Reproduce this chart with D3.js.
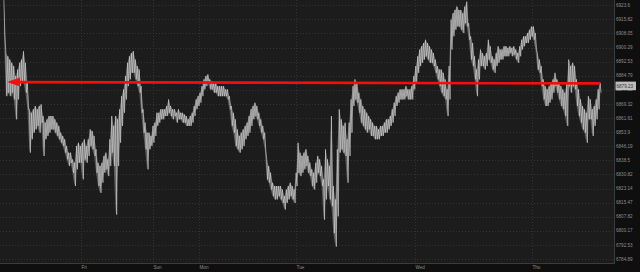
<!DOCTYPE html>
<html lang="en">
<head>
<meta charset="utf-8">
<title>price chart</title>
<style>
* { margin: 0; padding: 0; }
body { background: #0f0f0f; width: 640px; height: 272px; overflow: hidden; }
svg { display: block; font-family: "Liberation Sans", Arial, sans-serif; }
</style>
<script src="https://cdn.jsdelivr.net/npm/d3@7/dist/d3.min.js"></script>
</head>
<body>
<div id="chart"></div>
<script>
  // right axis labels
  const yTicks = [6923.6, 6915.82, 6908.05, 6900.29, 6892.53, 6884.79, 6877.05, 6869.32, 6861.61,
                  6853.9, 6846.19, 6838.5, 6830.82, 6823.14, 6815.47, 6807.82, 6800.17, 6792.53, 6784.89];
  // day labels, placed at bar index
  const days   = ["Fri", "Sun", "Mon", "Tue", "Wed", "Thu"];
  const dayIdx = [39.5, 75.9, 99.6, 149.1, 209.5, 269.5];

  // high / low of each bar
  const hi = [
    6926.5, 6897.3, 6895.5, 6893.7, 6891.9, 6890.1, 6884.6, 6888.2, 6891.9, 6893.7,
    6898.3, 6891.9, 6880.9, 6866.4, 6864.5, 6866.4, 6868.2, 6866.4, 6868.2, 6869.1,
    6862.7, 6859.1, 6860.9, 6862.7, 6862.7, 6862.7, 6860.9, 6859.1, 6857.3, 6853.6,
    6851.8, 6850.0, 6846.3, 6842.7, 6842.7, 6839.0, 6837.2, 6846.3, 6848.1, 6846.3,
    6848.1, 6850.0, 6846.3, 6850.0, 6855.4, 6854.5, 6851.8, 6844.5, 6837.2, 6835.4,
    6837.2, 6840.9, 6842.7, 6839.0, 6850.0, 6862.7, 6857.3, 6862.7, 6860.9, 6866.4,
    6873.6, 6877.3, 6884.6, 6891.9, 6895.5, 6897.3, 6898.3, 6893.7, 6890.1, 6888.2,
    6879.1, 6866.4, 6859.1, 6853.6, 6853.6, 6851.8, 6857.3, 6859.1, 6864.5, 6864.5,
    6866.4, 6866.4, 6866.4, 6868.2, 6871.8, 6868.2, 6866.4, 6866.4, 6864.5, 6866.4,
    6864.5, 6864.5, 6863.6, 6862.7, 6860.9, 6862.7, 6864.5, 6868.2, 6871.8, 6873.6,
    6875.5, 6879.1, 6882.8, 6884.6, 6885.5, 6882.8, 6881.9, 6880.9, 6880.9, 6879.1,
    6879.1, 6879.1, 6879.1, 6877.3, 6877.3, 6873.6, 6868.2, 6864.5, 6860.9, 6855.4,
    6851.8, 6853.6, 6855.4, 6857.3, 6859.1, 6862.7, 6866.4, 6868.2, 6870.0, 6868.2,
    6864.5, 6860.9, 6857.3, 6853.6, 6839.0, 6835.4, 6831.7, 6826.3, 6824.5, 6824.5,
    6824.5, 6824.5, 6822.6, 6819.0, 6822.6, 6824.5, 6826.3, 6824.5, 6822.6, 6831.7,
    6848.1, 6842.7, 6840.9, 6842.7, 6844.5, 6840.9, 6837.2, 6833.6, 6831.7, 6837.2,
    6840.9, 6839.0, 6835.4, 6828.1, 6844.5, 6839.0, 6835.4, 6862.7, 6824.5, 6817.2,
    6844.5, 6866.4, 6860.9, 6857.3, 6859.1, 6850.0, 6859.1, 6871.8, 6879.1, 6882.8,
    6880.9, 6875.5, 6871.8, 6868.2, 6866.4, 6864.5, 6862.7, 6860.9, 6859.1, 6857.3,
    6857.3, 6855.4, 6857.3, 6857.3, 6859.1, 6860.9, 6860.9, 6862.7, 6866.4, 6870.0,
    6873.6, 6875.5, 6877.3, 6877.3, 6877.3, 6879.1, 6877.3, 6877.3, 6879.1, 6884.6,
    6890.1, 6895.5, 6899.2, 6901.0, 6902.8, 6904.6, 6902.8, 6901.0, 6899.2, 6897.3,
    6893.7, 6890.1, 6888.2, 6888.2, 6886.4, 6882.8, 6877.3, 6890.1, 6915.6, 6919.2,
    6921.0, 6922.9, 6921.0, 6921.0, 6919.2, 6922.9, 6925.6, 6913.7, 6906.5, 6902.8,
    6895.5, 6888.2, 6893.7, 6899.2, 6897.3, 6895.5, 6897.3, 6904.6, 6901.0, 6895.5,
    6893.7, 6897.3, 6901.0, 6899.2, 6899.2, 6901.0, 6901.0, 6900.1, 6901.0, 6900.1,
    6901.0, 6899.2, 6897.3, 6901.0, 6904.6, 6906.5, 6906.5, 6908.3, 6910.1, 6911.9,
    6911.9, 6908.3, 6897.3, 6893.7, 6890.1, 6882.8, 6879.1, 6877.3, 6879.1, 6880.9,
    6882.8, 6886.4, 6882.8, 6880.9, 6879.1, 6877.3, 6875.5, 6880.9, 6893.7, 6890.1,
    6891.9, 6890.1, 6882.8, 6877.3, 6871.8, 6868.2, 6866.4, 6864.5, 6873.6, 6871.8,
    6866.4, 6868.2, 6871.8, 6877.3, 6880.9
  ];
  const lo = [
    6907.4, 6873.6, 6875.5, 6873.6, 6875.5, 6871.8, 6860.9, 6871.8, 6879.1, 6880.9,
    6880.9, 6875.5, 6866.4, 6842.7, 6850.0, 6853.6, 6855.4, 6857.3, 6853.6, 6859.1,
    6840.9, 6850.0, 6851.8, 6853.6, 6855.4, 6855.4, 6853.6, 6851.8, 6850.0, 6848.1,
    6846.3, 6842.7, 6839.0, 6835.4, 6837.2, 6831.7, 6824.5, 6833.6, 6837.2, 6837.2,
    6828.1, 6839.0, 6837.2, 6840.9, 6846.3, 6844.5, 6840.9, 6831.7, 6824.5, 6820.8,
    6826.3, 6831.7, 6833.6, 6829.9, 6835.4, 6842.7, 6835.4, 6809.0, 6835.4, 6848.1,
    6857.3, 6864.5, 6871.8, 6879.1, 6882.8, 6886.4, 6886.4, 6882.8, 6879.1, 6875.5,
    6864.5, 6853.6, 6844.5, 6833.6, 6844.5, 6846.3, 6848.1, 6851.8, 6857.3, 6859.1,
    6860.9, 6860.9, 6862.7, 6862.7, 6864.5, 6862.7, 6860.9, 6862.7, 6859.1, 6860.9,
    6860.9, 6859.1, 6859.1, 6857.3, 6857.3, 6857.3, 6859.1, 6862.7, 6866.4, 6868.2,
    6870.0, 6873.6, 6877.3, 6879.1, 6880.9, 6877.3, 6877.3, 6875.5, 6875.5, 6873.6,
    6873.6, 6873.6, 6873.6, 6873.6, 6871.8, 6866.4, 6857.3, 6853.6, 6846.3, 6844.5,
    6842.7, 6844.5, 6846.3, 6850.0, 6851.8, 6853.6, 6857.3, 6860.9, 6862.7, 6860.9,
    6857.3, 6853.6, 6850.0, 6844.5, 6828.1, 6826.3, 6822.6, 6819.0, 6817.2, 6817.2,
    6819.0, 6817.2, 6815.3, 6811.7, 6815.3, 6817.2, 6819.0, 6817.2, 6815.3, 6824.5,
    6831.7, 6829.9, 6831.7, 6833.6, 6835.4, 6831.7, 6829.9, 6824.5, 6822.6, 6826.3,
    6831.7, 6829.9, 6824.5, 6806.2, 6817.2, 6824.5, 6817.2, 6813.5, 6798.9, 6791.6,
    6808.0, 6842.7, 6844.5, 6842.7, 6840.9, 6826.3, 6840.9, 6853.6, 6868.2, 6871.8,
    6870.0, 6864.5, 6859.1, 6857.3, 6855.4, 6853.6, 6855.4, 6851.8, 6851.8, 6850.0,
    6850.0, 6850.0, 6851.8, 6851.8, 6853.6, 6853.6, 6855.4, 6857.3, 6859.1, 6862.7,
    6868.2, 6870.0, 6871.8, 6871.8, 6871.8, 6873.6, 6871.8, 6871.8, 6871.8, 6877.3,
    6880.9, 6886.4, 6890.1, 6891.9, 6893.7, 6895.5, 6893.7, 6891.9, 6891.9, 6890.1,
    6886.4, 6882.8, 6879.1, 6875.5, 6873.6, 6871.8, 6862.7, 6871.8, 6899.2, 6906.5,
    6910.1, 6911.9, 6911.9, 6910.1, 6908.3, 6913.7, 6911.9, 6904.6, 6893.7, 6890.1,
    6882.8, 6873.6, 6882.8, 6890.1, 6890.1, 6888.2, 6890.1, 6893.7, 6891.9, 6888.2,
    6886.4, 6890.1, 6891.9, 6893.7, 6893.7, 6895.5, 6895.5, 6895.5, 6897.3, 6895.5,
    6896.4, 6893.7, 6891.9, 6895.5, 6899.2, 6901.0, 6902.8, 6902.8, 6904.6, 6906.5,
    6904.6, 6899.2, 6888.2, 6886.4, 6879.1, 6871.8, 6868.2, 6868.2, 6870.0, 6871.8,
    6875.5, 6879.1, 6875.5, 6871.8, 6868.2, 6866.4, 6862.7, 6857.3, 6879.1, 6875.5,
    6879.1, 6877.3, 6868.2, 6862.7, 6859.1, 6855.4, 6853.6, 6848.1, 6860.9, 6860.9,
    6851.8, 6857.3, 6860.9, 6866.4, 6875.5
  ];

  // drawn horizontal line (start value, end value) and the start bar
  const redLine = [6881.3, 6880.6];
  const redFrom = 1.6;
  const lastPrice = 6879.23;

  const W = 640, H = 272;
  const plotW = 614.5, plotH = 263.5;

  const svg = d3.select("#chart")
                .append("svg")
                .attr("width", W)
                .attr("height", H);

  const x = d3.scaleLinear()
              .domain([0, hi.length - 1])
              .range([3.9, 600.1]);
  const y = d3.scaleLog()
              .domain([6784.89, 6923.6])
              .range([259, 5.3]);

  // plot background
  svg.append("rect")
     .attr("x", 0).attr("y", 0)
     .attr("width", plotW).attr("height", plotH)
     .style("fill", "#1c1c1c");

  const grid = svg.append("g")
                  .style("stroke", "#333")
                  .style("stroke-width", 1)
                  .style("stroke-dasharray", "1,2");
  grid.selectAll(".hg")
      .data(yTicks)
      .enter()
      .append("line")
      .attr("class", "hg")
      .attr("x1", 0).attr("x2", plotW)
      .attr("y1", d => Math.round(y(d)) + 0.5)
      .attr("y2", d => Math.round(y(d)) + 0.5);
  grid.selectAll(".vg")
      .data(dayIdx)
      .enter()
      .append("line")
      .attr("class", "vg")
      .attr("x1", d => Math.round(x(d)) + 0.5)
      .attr("x2", d => Math.round(x(d)) + 0.5)
      .attr("y1", 0).attr("y2", plotH);

  // border right / bottom
  svg.append("path")
     .attr("d", `M${plotW},0V${plotH}H0`)
     .style("fill", "none")
     .style("stroke", "#3c3c3c")
     .style("stroke-width", 1);

  svg.append("defs")
     .append("clipPath")
     .attr("id", "clip")
     .append("rect")
     .attr("width", plotW).attr("height", plotH);

  const priceG = svg.append("g")
                    .attr("clip-path", "url(#clip)");

  // high-low band
  const area = d3.area()
                 .x((d, i) => x(i))
                 .y0((d, i) => y(lo[i]))
                 .y1(d => y(d));
  priceG.append("path")
        .datum(hi)
        .attr("d", area)
        .style("fill", "#9c9c9c")
        .style("fill-opacity", 0.5);

  // price line: high, then low half a bar later
  const pts = [];
  hi.forEach((h, i) => {
    pts.push([i, h]);
    pts.push([i + 0.5, lo[i]]);
  });
  const line = d3.line()
                 .x(d => x(d[0]))
                 .y(d => y(d[1]));

  priceG.append("path")
        .datum(pts)
        .attr("d", line)
        .style("fill", "none")
        .style("stroke", "#d6d6d6")
        .style("stroke-width", 0.7)
        .style("stroke-opacity", 0.85)
        .style("stroke-linejoin", "round");

  // red arrow line
  const tx = x(redFrom), ty = y(redLine[0]);
  svg.append("line")
     .attr("x1", tx + 4).attr("y1", ty)
     .attr("x2", x(hi.length - 1)).attr("y2", y(redLine[1]))
     .style("stroke", "#f40e0e")
     .style("stroke-width", 2.6);
  svg.append("path")
     .attr("d", `M${tx},${ty}L${tx + 13},${ty - 4.5}L${tx + 13},${ty + 4.5}Z`)
     .style("fill", "#f40e0e");

  // right axis labels
  svg.selectAll(".yl")
     .data(yTicks)
     .enter()
     .append("text")
     .attr("class", "yl")
     .attr("x", 616)
     .attr("y", d => y(d))
     .attr("dy", "0.35em")
     .style("font-size", "4.6px")
     .style("fill", "#8e8e8e")
     .text(d => d);

  // last price tag
  svg.append("rect")
     .attr("x", 615.5).attr("y", y(lastPrice) - 4.3)
     .attr("width", 20.5).attr("height", 8.6)
     .style("fill", "#bdbdbd");
  svg.append("text")
     .attr("x", 616.5)
     .attr("y", y(lastPrice))
     .attr("dy", "0.35em")
     .style("font-size", "4.6px")
     .style("fill", "#3a3a3a")
     .text(lastPrice);

  // day labels
  svg.selectAll(".dl")
     .data(days)
     .enter()
     .append("text")
     .attr("class", "dl")
     .attr("x", (d, i) => Math.round(x(dayIdx[i])) + 0.5)
     .attr("y", 267.5)
     .attr("dy", "0.35em")
     .style("font-size", "4.6px")
     .style("fill", "#8e8e8e")
     .text(d => d);
</script>
</body>
</html>
